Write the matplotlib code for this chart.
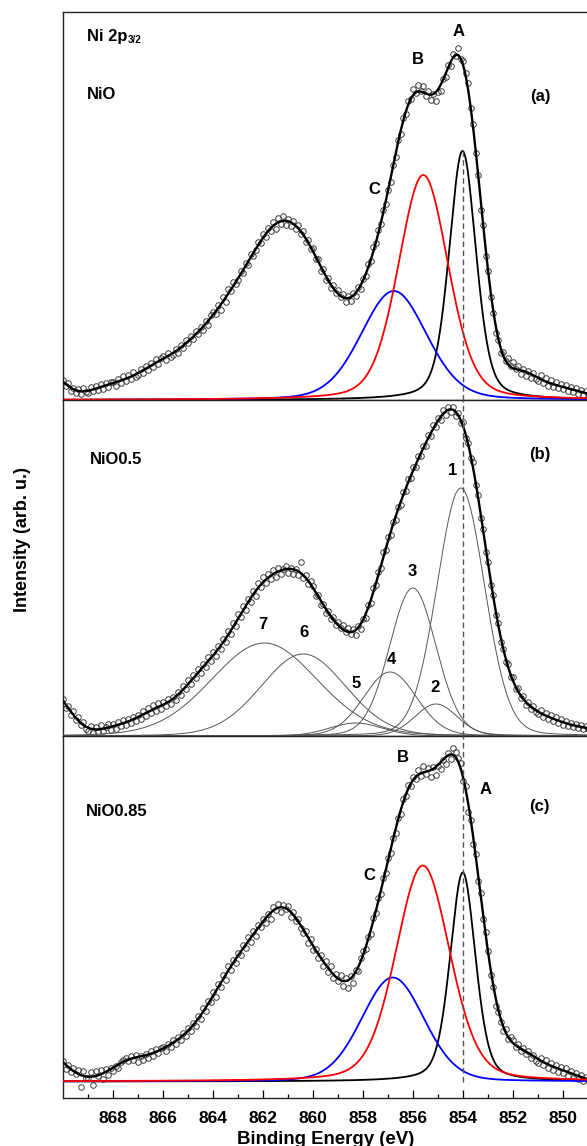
import numpy as np
import matplotlib
matplotlib.use("Agg")
import matplotlib.pyplot as plt

plt.rcParams['font.family'] = ['Liberation Sans', 'DejaVu Sans']
plt.rcParams['font.weight'] = 'bold'
plt.rcParams['axes.linewidth'] = 1.0

# ---- measured Ni 2p3/2 spectra, 0.1 eV step from 870.0 down to 849.0 eV ----
energy = np.round(870.0 - 0.1 * np.arange(211), 1)

intensity_nio = [
    20, 14, 17, 9, 12, 7, 11, 6, 12, 8,
    7, 13, 9, 14, 10, 16, 11, 17, 13, 18,
    18, 14, 21, 17, 24, 19, 25, 21, 28, 23,
    25, 31, 27, 34, 30, 37, 33, 41, 36, 42,
    44, 40, 47, 43, 45, 51, 47, 55, 52, 60,
    57, 64, 61, 69, 66, 73, 70, 79, 75, 85,
    88, 86, 95, 90, 103, 98, 111, 109, 118, 116,
    120, 129, 127, 137, 135, 146, 144, 150, 158, 157,
    166, 163, 172, 169, 178, 171, 182, 176, 184, 175,
    181, 174, 179, 171, 175, 166, 169, 158, 160, 151,
    152, 141, 141, 129, 131, 120, 122, 112, 115, 107,
    110, 103, 106, 98, 104, 99, 107, 104, 113, 111,
    121, 124, 136, 139, 153, 157, 170, 176, 190, 196,
    210, 218, 235, 243, 260, 266, 282, 286, 299, 301,
    311, 307, 315, 309, 314, 304, 309, 300, 306, 299,
    308, 309, 321, 323, 335, 334, 346, 344, 352, 341,
    339, 327, 317, 292, 276, 247, 225, 190, 175, 144,
    129, 103, 87, 67, 60, 47, 48, 39, 42, 34,
    38, 31, 34, 26, 31, 24, 29, 22, 27, 21,
    19, 25, 17, 22, 14, 20, 13, 18, 12, 16,
    11, 15, 9, 13, 8, 12, 6, 10, 5, 9,
    6,
]

intensity_nio05 = [
    37, 28, 30, 21, 25, 16, 19, 11, 14, 7,
    5, 10, 3, 9, 4, 11, 5, 9, 12, 6,
    12, 7, 14, 10, 16, 11, 17, 13, 19, 15,
    21, 17, 25, 20, 28, 23, 31, 25, 33, 27,
    34, 30, 37, 32, 39, 36, 44, 41, 50, 47,
    56, 52, 61, 58, 67, 63, 72, 69, 79, 75,
    84, 80, 90, 87, 97, 94, 105, 102, 113, 110,
    122, 119, 130, 126, 137, 134, 145, 140, 153, 149,
    159, 153, 162, 157, 166, 159, 168, 162, 167, 170,
    163, 168, 162, 167, 161, 174, 158, 161, 152, 155,
    150, 140, 141, 131, 132, 123, 125, 117, 119, 111,
    114, 108, 111, 104, 108, 102, 107, 101, 110, 107,
    117, 118, 131, 133, 148, 151, 164, 168, 184, 186,
    199, 201, 214, 216, 229, 231, 244, 245, 257, 258,
    269, 269, 280, 280, 290, 290, 301, 300, 311, 309,
    318, 316, 326, 321, 329, 324, 329, 320, 323, 313,
    314, 298, 293, 278, 274, 251, 241, 218, 207, 184,
    174, 151, 141, 121, 113, 94, 87, 74, 72, 59,
    59, 47, 48, 38, 40, 31, 34, 27, 30, 24,
    22, 26, 19, 23, 17, 21, 15, 19, 13, 17,
    11, 15, 10, 13, 9, 12, 8, 11, 7, 10,
    7,
]

intensity_nio085 = [
    21, 13, 17, 10, 14, 8, 12, -5, 11, 4,
    4, 10, -3, 11, 6, 12, 3, 13, 7, 14,
    11, 16, 14, 20, 22, 24, 21, 26, 22, 27,
    20, 26, 22, 28, 24, 31, 26, 33, 29, 34,
    35, 31, 38, 35, 42, 38, 45, 42, 49, 46,
    54, 51, 59, 56, 66, 63, 74, 71, 81, 80,
    90, 85, 98, 95, 107, 102, 116, 112, 122, 119,
    129, 127, 137, 134, 145, 140, 151, 146, 157, 155,
    163, 159, 168, 163, 175, 172, 178, 170, 177, 173,
    176, 165, 170, 161, 163, 154, 149, 151, 139, 143,
    132, 133, 124, 127, 116, 121, 110, 116, 104, 108,
    101, 107, 96, 104, 94, 106, 99, 112, 111, 124,
    131, 133, 145, 148, 164, 169, 184, 188, 204, 209,
    224, 229, 244, 249, 264, 268, 283, 286, 297, 296,
    305, 303, 312, 306, 316, 308, 314, 305, 315, 307,
    316, 313, 322, 318, 329, 323, 334, 330, 324, 319,
    301, 296, 270, 262, 238, 228, 201, 189, 163, 150,
    131, 107, 95, 76, 70, 60, 51, 53, 43, 45,
    42, 35, 38, 31, 34, 28, 31, 24, 27, 21,
    19, 24, 17, 22, 14, 19, 12, 17, 10, 15,
    9, 14, 6, 11, 4, 9, 3, 7, 1, 5,
    2,
]

# ---- fitted components: centre (eV), height, FWHM (eV), Lorentzian fraction ----
nio_center = [854.03, 855.60, 856.78]
nio_height = [249, 225, 109]
nio_fwhm = [1.27, 2.35, 3.10]
nio_eta = [0.35, 0.25, 0.20]

nio05_center = [854.10, 855.09, 856.02, 856.93, 858.30, 860.40, 861.96]
nio05_height = [248, 32, 148, 64, 13, 82, 93]
nio05_fwhm = [2.25, 2.00, 2.20, 2.50, 2.50, 4.00, 5.00]
nio05_eta = [0.1, 0.1, 0.1, 0.1, 0.1, 0.1, 0.1]

nio085_center = [854.02, 855.62, 856.82]
nio085_height = [209, 216, 104]
nio085_fwhm = [1.20, 2.55, 2.95]
nio085_eta = [0.35, 0.25, 0.15]

ref_energy = 854.0  # Ni2+ main line reference


def pseudo_voigt(e, c, h, w, eta):
    x2 = ((e - c) / w) ** 2
    return h * ((1 - eta) * np.exp(-4 * np.log(2) * x2) + eta / (1 + 4 * x2))


def envelope_fit(e, y, e_out, width=0.45, step=0.3, lam=2.0):
    """Penalised least-squares Gaussian-basis fit through the measured points."""
    centers = np.arange(e.min() - 1.0, e.max() + 1.0 + 1e-9, step)

    def basis(x):
        return np.exp(-0.5 * ((x[:, None] - centers[None, :]) / width) ** 2)

    D = np.diff(np.eye(len(centers)), 2, axis=0)
    M = np.vstack([basis(e), np.sqrt(lam) * D])
    rhs = np.concatenate([np.asarray(y, float), np.zeros(D.shape[0])])
    coef = np.linalg.lstsq(M, rhs, rcond=None)[0]
    return basis(e_out) @ coef


W, H = 587, 1146
fig = plt.figure(figsize=(W / 100, H / 100), dpi=100)
x0, xw = 63.3 / W, 525.0 / W


def panel(top, bottom):
    return fig.add_axes([x0, 1 - bottom / H, xw, (bottom - top) / H])


def ftext(x, y, s, **kw):
    return fig.text(x / W, 1 - y / H, s, **kw)


ax_a = panel(11.7, 400)
ax_b = panel(400, 736)
ax_c = panel(736, 1098)

e_fine = np.linspace(870.0, 849.0, 1500)
point_style = dict(ls='none', marker='o', ms=4.0, mfc='none', mec='#3c3c3c', mew=0.7, zorder=2)
comp_colors = ['black', '#ff0000', '#0000ff']

for ax, y in [(ax_a, intensity_nio), (ax_b, intensity_nio05), (ax_c, intensity_nio085)]:
    ax.plot(energy, y, **point_style)
    ax.plot(e_fine, envelope_fit(energy, y, e_fine), color='black', lw=1.7, zorder=4)
    ax.set_xlim(870.0, 849.0)
    ax.set_yticks([])
    for s in ax.spines.values():
        s.set_linewidth(1.0)
        s.set_color('#222222')

# (a) NiO and (c) NiO0.85: components A (black), B (red), C (blue)
for ax, cen, hei, fw, eta in [(ax_a, nio_center, nio_height, nio_fwhm, nio_eta),
                              (ax_c, nio085_center, nio085_height, nio085_fwhm, nio085_eta)]:
    for k in [0, 2, 1]:
        ax.plot(e_fine, pseudo_voigt(e_fine, cen[k], hei[k], fw[k], eta[k]),
                color=comp_colors[k], lw=1.3, zorder=5)

# (b) NiO0.5: seven components
for c, h, w, eta in zip(nio05_center, nio05_height, nio05_fwhm, nio05_eta):
    ax_b.plot(e_fine, pseudo_voigt(e_fine, c, h, w, eta), color='#555555', lw=0.7, zorder=3)

ax_a.set_ylim(0, 388.3)
ax_b.set_ylim(0, 336)
ax_c.set_ylim(-16.5, 345.5)

dash = dict(color='#555555', lw=1.0, ls=(0, (4, 2.5)), zorder=6)
ax_a.plot([ref_energy, ref_energy],
          [0, pseudo_voigt(ref_energy, nio_center[0], nio_height[0], nio_fwhm[0], nio_eta[0])], **dash)
ax_b.axvline(ref_energy, **dash)
ax_c.plot([ref_energy, ref_energy], [0, 345.5], **dash)

for ax in (ax_a, ax_b):
    ax.set_xticks([])

ax_c.set_xticks(np.arange(868, 849, -2))
ax_c.set_xticks(np.arange(869, 848, -2), minor=True)
ax_c.tick_params(axis='x', which='major', direction='in', length=5.8, width=0.9,
                 labelsize=12.5, pad=9.5)
ax_c.tick_params(axis='x', which='minor', direction='in', length=2.9, width=0.9)
for lab in ax_c.get_xticklabels():
    lab.set_fontweight('bold')

ftext(325.8, 1144, 'Binding Energy (eV)', ha='center', va='baseline', fontsize=13.4)
ftext(22.5, 540, 'Intensity (arb. u.)', ha='center', va='center', rotation=90, fontsize=13)

# panel annotations
t_ni = ftext(86.7, 40.7, 'Ni 2p', ha='left', va='baseline', fontsize=12)
ax_a.annotate('3/2', xy=(1.0, 0.0), xycoords=t_ni, xytext=(0.3, -1.0),
              textcoords='offset points', ha='left', va='bottom', fontsize=7)
ftext(86.7, 98.7, 'NiO', ha='left', va='baseline', fontsize=12)
ftext(540, 97, '(a)', ha='center', va='center', fontsize=12)
ftext(459, 31.5, 'A', ha='center', va='center', fontsize=12)
ftext(418, 60, 'B', ha='center', va='center', fontsize=12)
ftext(374, 189, 'C', ha='center', va='center', fontsize=12)

ftext(90, 460, 'NiO0.5', ha='left', va='center', fontsize=12)
ftext(540, 455, '(b)', ha='center', va='center', fontsize=12)
for s, (px, py) in zip(['1', '2', '3', '4', '5', '6', '7'],
                       [(452.7, 470), (435.2, 687.5), (412.5, 571.7), (391.3, 659.8),
                        (355.8, 683.3), (304.5, 632.5), (262.5, 624.2)]):
    ftext(px, py, s, ha='center', va='center', fontsize=12)

ftext(86, 811, 'NiO0.85', ha='left', va='center', fontsize=12)
ftext(539.5, 806, '(c)', ha='center', va='center', fontsize=12)
ftext(402.8, 757.5, 'B', ha='center', va='center', fontsize=12)
ftext(485.8, 789.2, 'A', ha='center', va='center', fontsize=12)
ftext(369.2, 875.8, 'C', ha='center', va='center', fontsize=12)

fig.savefig('out.png', dpi=100)
